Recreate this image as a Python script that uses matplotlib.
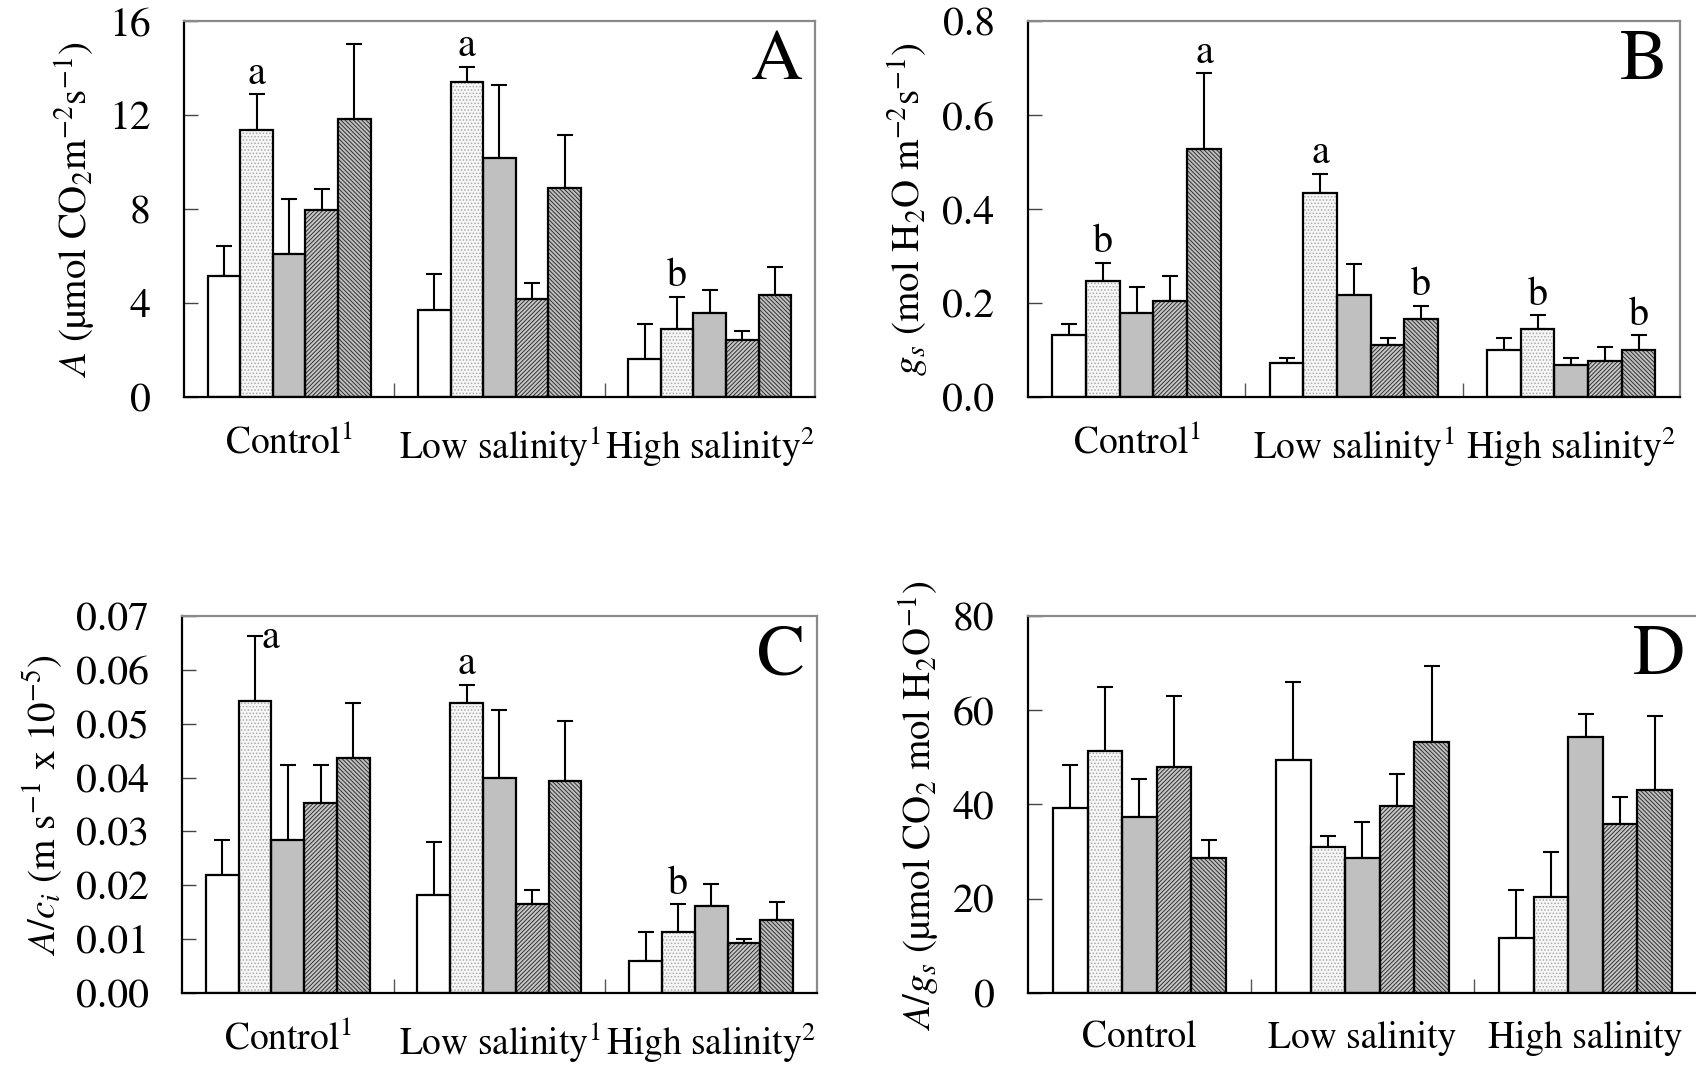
import matplotlib.pyplot as plt
import numpy as np

plt.rcParams['font.family'] = ['STIXGeneral', 'DejaVu Serif']
plt.rcParams['mathtext.fontset'] = 'stix'
plt.rcParams['hatch.linewidth'] = 0.7

# group labels
groups_sup = ['Control$^1$', 'Low salinity$^1$', 'High salinity$^2$']
groups_plain = ['Control', 'Low salinity', 'High salinity']

# A: net photosynthesis (rows = control / low / high, cols = 5 genotypes)
a_mean = [[5.13, 11.35, 6.10, 7.94, 11.83],
          [3.69, 13.40, 10.18, 4.16, 8.91],
          [1.63, 2.91, 3.59, 2.41, 4.35]]
a_se = [[1.28, 1.54, 2.34, 0.90, 3.21],
        [1.54, 0.66, 3.10, 0.68, 2.24],
        [1.48, 1.36, 0.98, 0.38, 1.18]]
a_letters = [(0, 1, 'a'), (1, 1, 'a'), (2, 1, 'b')]

# B: stomatal conductance
b_mean = [[0.131, 0.247, 0.179, 0.204, 0.528],
          [0.072, 0.435, 0.218, 0.111, 0.165],
          [0.101, 0.145, 0.067, 0.077, 0.101]]
b_se = [[0.024, 0.039, 0.054, 0.053, 0.161],
        [0.010, 0.040, 0.064, 0.015, 0.029],
        [0.025, 0.029, 0.015, 0.029, 0.030]]
b_letters = [(0, 1, 'b'), (0, 4, 'a'), (1, 1, 'a'), (1, 4, 'b'), (2, 1, 'b'), (2, 4, 'b')]

# C: A/ci
c_mean = [[0.0219, 0.0543, 0.0284, 0.0352, 0.0437],
          [0.0182, 0.0538, 0.0399, 0.0165, 0.0394],
          [0.0059, 0.0114, 0.0161, 0.0093, 0.0135]]
c_se = [[0.0065, 0.0119, 0.0139, 0.0071, 0.0101],
        [0.0099, 0.0034, 0.0127, 0.0026, 0.0111],
        [0.0055, 0.0051, 0.0041, 0.0008, 0.0034]]
c_letters = [(0, 1, 'a'), (1, 1, 'a'), (2, 1, 'b')]

# D: water use efficiency A/gs
d_mean = [[39.2, 51.3, 37.3, 48.0, 28.6],
          [49.4, 30.9, 28.6, 39.7, 53.3],
          [11.6, 20.4, 54.3, 35.8, 43.1]]
d_se = [[9.2, 13.7, 8.2, 15.0, 3.9],
        [16.6, 2.5, 7.7, 6.8, 16.0],
        [10.2, 9.6, 4.8, 5.8, 15.6]]

# bar fill styles: (face, hatch, hatch colour)
styles = [('white', None, 'white'),
          ('#f7f7f7', '.....', '#a8a8a8'),
          ('#c0c0c0', None, '#c0c0c0'),
          ('#c8c8c8', '////////', '#303030'),
          ('#c0c0c0', '\\\\\\\\\\\\\\\\', '#303030')]

bar_w = 0.155
fs = 29


def draw_panel(ax, mean, se, ylim, yticks, yfmt, ylabel, xlabels, letter, sig=()):
    mean = np.array(mean)
    se = np.array(se)
    centers = np.arange(3) + 0.5
    for k, (face, hatch, hcol) in enumerate(styles):
        xs = centers + (k - 2) * bar_w
        ax.bar(xs, mean[:, k], bar_w, color=face, edgecolor=hcol, hatch=hatch,
               linewidth=0, zorder=2)
        ax.bar(xs, mean[:, k], bar_w, fill=False, edgecolor='black',
               linewidth=1.6, zorder=3)
        ax.errorbar(xs, mean[:, k], yerr=[np.zeros(3), se[:, k]], fmt='none',
                    ecolor='black', elinewidth=1.5, capsize=6, capthick=1.5, zorder=1)

    for g, k, txt in sig:
        x = centers[g] + (k - 2) * bar_w
        y = mean[g, k] + se[g, k]
        if ylim[1] - y < 0.08 * ylim[1]:
            # no room above: put it next to the cap
            ax.annotate(txt, (x, y), xytext=(5, 12), textcoords='offset points',
                        ha='left', va='top', fontsize=29)
        else:
            ax.annotate(txt, (x, y), xytext=(0, 1), textcoords='offset points',
                        ha='center', va='bottom', fontsize=29)

    ax.set_xlim(0, 3)
    ax.set_ylim(*ylim)
    ax.set_yticks(yticks)
    ax.set_yticklabels([yfmt.format(v) for v in yticks])
    ax.set_xticks(centers)
    ax.set_xticklabels(xlabels)
    ax.set_xticks([1, 2], minor=True)
    ax.tick_params(axis='x', which='major', length=0, pad=20, labelsize=27)
    ax.tick_params(axis='x', which='minor', direction='in', length=10, width=1,
                   color='#555555')
    ax.tick_params(axis='y', direction='in', length=10, width=1, color='#444444',
                   pad=24, labelsize=fs + 1)
    ax.set_ylabel(ylabel, fontsize=28, labelpad=8)

    for side in ['left', 'bottom']:
        ax.spines[side].set_color('black')
        ax.spines[side].set_linewidth(1.6)
    for side in ['top', 'right']:
        ax.spines[side].set_color('#8a8a8a')
        ax.spines[side].set_linewidth(1.6)

    ax.text(0.982, 0.976, letter, transform=ax.transAxes, ha='right', va='top',
            fontsize=52)


fig = plt.figure(figsize=(16.96, 10.66), dpi=100)
ax_a = fig.add_axes([0.1085, 0.6276, 0.372, 0.3527])
ax_b = fig.add_axes([0.6061, 0.6276, 0.3844, 0.3527])
ax_c = fig.add_axes([0.1073, 0.0685, 0.3744, 0.3537])
ax_d = fig.add_axes([0.6061, 0.0685, 0.3945, 0.3537])

draw_panel(ax_a, a_mean, a_se, (0, 16), np.arange(0, 17, 4), '{:.0f}',
           '$A$ (µmol CO$_2$m$^{-2}$s$^{-1}$)', groups_sup, 'A', a_letters)
draw_panel(ax_b, b_mean, b_se, (0, 0.8), np.arange(0, 0.81, 0.2), '{:.1f}',
           '$g_s$ (mol H$_2$O m$^{-2}$s$^{-1}$)', groups_sup, 'B', b_letters)
draw_panel(ax_c, c_mean, c_se, (0, 0.07), np.arange(0, 0.0701, 0.01), '{:.2f}',
           '$A/c_i$ (m s$^{-1}$ x 10$^{-5}$)', groups_sup, 'C', c_letters)
draw_panel(ax_d, d_mean, d_se, (0, 80), np.arange(0, 81, 20), '{:.0f}',
           '$A/g_s$ (µmol CO$_2$ mol H$_2$O$^{-1}$)', groups_plain, 'D')

fig.savefig('out.png', dpi=100)
